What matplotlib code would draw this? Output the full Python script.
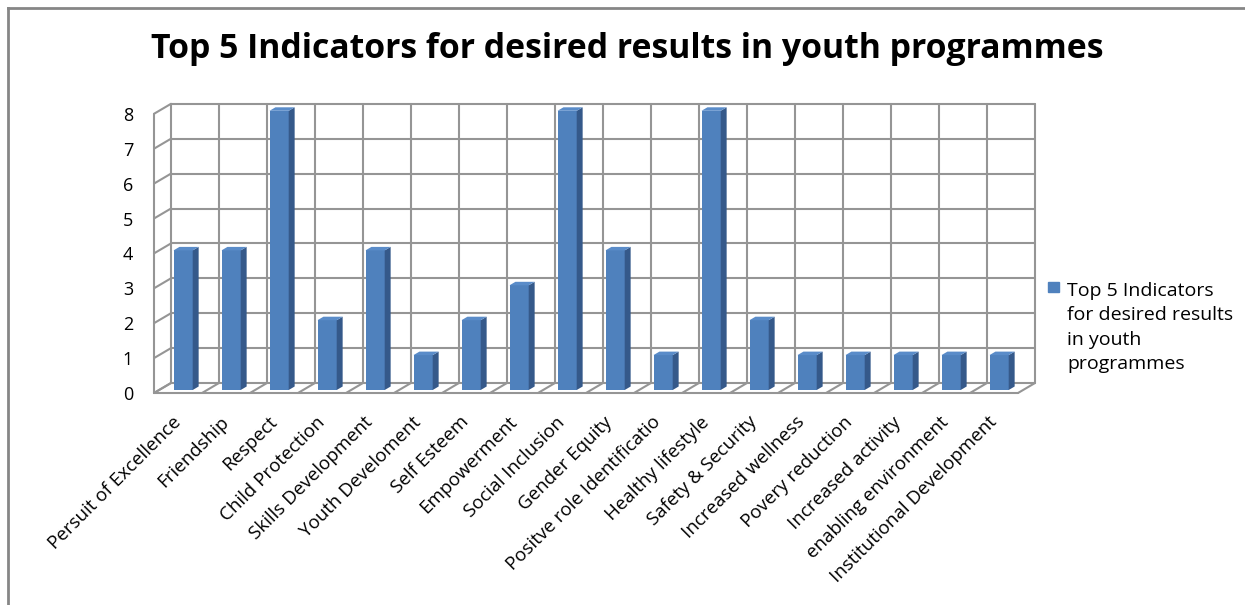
import numpy as np
import matplotlib
matplotlib.use("Agg")
import matplotlib.pyplot as plt
from matplotlib.lines import Line2D
from matplotlib.patches import Rectangle

# data
categories = ["Persuit of Excellence", "Friendship", "Respect", "Child Protection",
              "Skills Development", "Youth Develoment", "Self Esteem", "Empowerment",
              "Social Inclusion", "Gender Equity", "Positve role Identificatio",
              "Healthy lifestyle", "Safety & Security", "Increased wellness",
              "Povery reduction", "Increased activity", "enabling environment",
              "Institutional Development"]
values = [4, 4, 8, 2, 4, 1, 2, 3, 8, 4, 1, 8, 2, 1, 1, 1, 1, 1]
y_ticks = list(range(0, 9))
series_name = "Top 5 Indicators for desired results in youth programmes"
legend_text = "Top 5 Indicators\nfor desired results\nin youth\nprogrammes"

plt.rcParams['font.family'] = ['Open Sans', 'DejaVu Sans']

W, H = 1245, 605
fig = plt.figure(figsize=(W / 100, H / 100), dpi=100)

# pixel layout of the plot box (back wall origin at 171,383)
px_left, px_right, px_top, px_bot = 140, 1040, 100, 400
x0, xu = 171, 48.0
y0, yu = 383, 34.9
ax = fig.add_axes([px_left / W, 1 - px_bot / H, (px_right - px_left) / W, (px_bot - px_top) / H])
ax.set_xlim((px_left - x0) / xu, (px_right - x0) / xu)
ax.set_ylim(-(px_bot - y0) / yu, (y0 - px_top) / yu)
ax.patch.set_visible(False)
for s in ax.spines.values():
    s.set_visible(False)

# 3d depth of the walls in data units
DX, DY = -17 / xu, -10 / yu
n = len(categories)
ymax = y_ticks[-1]
grid_kw = dict(color="#959595", lw=1.5, zorder=1, solid_capstyle="round")

# back wall
for k in y_ticks:
    ax.plot([0, n], [k, k], **grid_kw)
for i in range(n + 1):
    ax.plot([i, i], [0, ymax], **grid_kw)
# left side wall
for k in y_ticks:
    ax.plot([0, DX], [k, k + DY], **grid_kw)
ax.plot([DX, DX], [DY, ymax + DY], **grid_kw)
# floor
ax.plot([DX, n + DX], [DY, DY], **grid_kw)
for i in range(n + 1):
    ax.plot([i, i + DX], [0, DY], **grid_kw)

# bars: front face + side + top
f = 0.7           # bar front position along the depth
bw = 0.4          # bar width
bd = 0.35         # bar depth
sdx, sdy = -bd * DX, -bd * DY
pos = np.arange(n) + 0.5 + f * DX
base = f * DY
front = "#4F81BD"
side = "#35598A"
top = "#5A8CC9"
ax.bar(pos, values, width=bw, bottom=base, color=front, zorder=3, label=series_name)
for x, v in zip(pos, values):
    xl, xr = x - bw / 2, x + bw / 2
    t = v + base
    ax.fill([xr, xr + sdx, xr + sdx, xr], [base, base + sdy, t + sdy, t], color=side, zorder=3, lw=0)
    ax.fill([xl, xl + sdx, xr + sdx, xr], [t, t + sdy, t + sdy, t], color=top, zorder=3, lw=0)

# tick labels
ax.set_yticks([k + DY for k in y_ticks])
ax.set_yticklabels([str(k) for k in y_ticks], fontsize=13)
ax.set_xticks(np.arange(n) + 0.5 + DX)
ax.set_xticklabels(categories, rotation=45, ha="right", va="center",
                   rotation_mode="anchor", fontsize=13.5)
ax.tick_params(axis="both", length=0)
ax.tick_params(axis="y", pad=5)
ax.tick_params(axis="x", pad=14)

# title
fig.text(627 / W, 1 - 58 / H, series_name, ha="center", va="baseline",
         fontsize=24.3, fontweight="bold")

# legend
fig.add_artist(Rectangle((1048 / W, 1 - 292 / H), 11 / W, 10 / H,
                         transform=fig.transFigure, color=front))
fig.text(1067 / W, 1 - 282 / H, legend_text, ha="left", va="top",
         fontsize=14, linespacing=1.45)

# chart frame (top and left edges visible)
fig.add_artist(Line2D([8 / W, 8 / W], [0, 1 - 8 / H], transform=fig.transFigure,
                      color="#868686", lw=2))
fig.add_artist(Line2D([8 / W, 1], [1 - 8 / H, 1 - 8 / H], transform=fig.transFigure,
                      color="#868686", lw=2))

fig.savefig("out.png", dpi=100)
